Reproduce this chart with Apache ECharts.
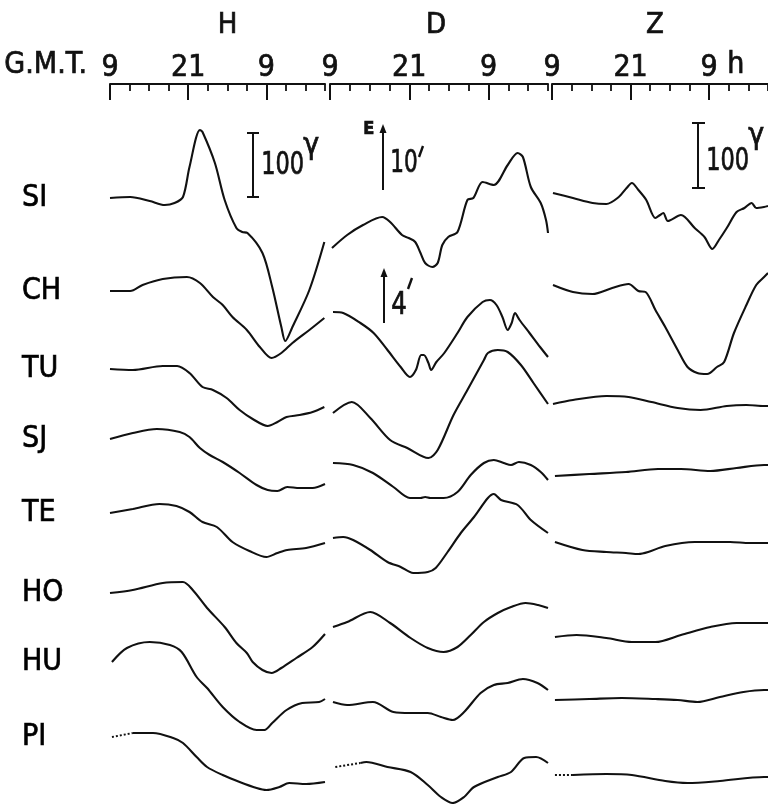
<!DOCTYPE html>
<html><head><meta charset="utf-8">
<script src="https://cdn.jsdelivr.net/npm/echarts@6/dist/echarts.min.js"></script>
<style>html,body{margin:0;padding:0;background:#fff}#c{width:768px;height:804px}</style>
</head><body><div id="c"></div>
<script>
// Stations and components
const stations = ['SI','CH','TU','SJ','TE','HO','HU','PI'];
const components = ['H','D','Z'];
// G.M.T. hour tick categories (every 3 h, 09h day 1 .. 18h day 2)
const hourTicks = ['9','12','15','18','21','0','3','6','9','12','15','18'];
// Trace base levels (record units below the time scale)
const levelH = [114,207,285,355,429,509,578,653];
const levelD = [164,228,329,379,454,543,618,683];
const levelZ = [109,201,320,392,458,553,616,691];
// number of leading points of each station's traces drawn dotted (record gaps)
const dottedLead = [0,0,0,0,0,0,0,2];

// Traces: [hour (GMT, from 09h day 1), deviation (record units, up = +)]
// H component
const H_SI = [[9,0],[12.1,1],[15.1,-3],[17.4,-7],[18.9,-5],[20.2,1],[21.2,31],[22.8,68],[23.2,66],[25.1,35],[26.6,-2],[28.4,-30],[29.3,-34],[30.1,-35],[32.4,-55],[33.9,-89],[35.3,-129],[35.9,-143],[37,-129],[39.6,-92],[41.9,-44]];
const H_CH = [[9,0],[12.1,0],[14,6],[17.1,12],[20.8,14],[22.8,8],[24.8,-6],[26.3,-14],[27.8,-26],[30,-39],[32,-56],[33.8,-67],[35.3,-62],[37,-52],[39.6,-39],[41.9,-27]];
const H_TU = [[9,0],[12.5,-1],[17.1,3],[19.3,3],[21.2,-4],[23.2,-18],[24.8,-21],[26.9,-29],[28.9,-41],[30.9,-50],[33.2,-57],[34.7,-53],[36.1,-48],[38.1,-46],[40.1,-43],[41.9,-38]];
const H_SJ = [[9,0],[12.5,6],[16.2,10],[19.7,7],[21.2,2],[22.8,-9],[24.3,-16],[26.3,-23],[28.9,-34],[31.5,-46],[33.2,-51],[34.7,-52],[36.2,-48],[38.1,-49],[40.1,-49],[42,-45]];
const H_TE = [[9,0],[12.5,4],[16.6,9],[19.2,7],[21.2,1],[23.2,-9],[25.4,-14],[27.8,-29],[30.4,-38],[33,-44],[34.7,-40],[36.2,-37],[39.1,-35],[42,-30]];
const H_HO = [[9,0],[12.5,3],[17.1,10],[20.2,11],[21.7,3],[23.9,-15],[26.6,-34],[28.4,-50],[30,-60],[30.9,-69],[32.4,-77],[33.8,-80],[35.3,-75],[37.6,-65],[40.1,-54],[42,-41]];
const H_HU = [[9.3,0],[11.6,14],[15.1,20],[18.2,17],[20,10],[22.3,-15],[23.9,-26],[26.3,-45],[28.9,-60],[31.5,-68],[32.7,-68],[33.9,-61],[36.1,-48],[38.5,-41],[41.1,-40],[42,-37]];
const H_PI = [[9.3,0],[12.5,4],[15.6,4],[18.7,-1],[20.2,-6],[22.3,-20],[23.9,-30],[26.3,-38],[28.9,-45],[31.5,-51],[33,-53],[35,-50],[36.5,-46],[39.1,-47],[42,-45]];
// D component
const D_SI = [[9.3,0],[11.6,13],[14,23],[16.9,31],[18.1,26],[19.9,13],[20.9,10],[21.9,6],[22.7,-5],[23.4,-15],[24.5,-19],[25.3,-15],[26,3],[26.9,11],[28.3,16],[29.8,48],[30.7,50],[32.1,66],[33.8,63],[35.9,83],[37.4,95],[38.2,91],[39.4,61],[40.9,45],[41.7,28],[42,15]];
const D_CH = [[9.45,0],[11,-1],[13.6,-11],[15.6,-21],[17.7,-38],[19.7,-55],[21.1,-65],[22,-58],[22.8,-43],[23.2,-43],[23.9,-51],[24.3,-58],[25.1,-50],[26.3,-41],[28.3,-21],[29.8,-5],[32.1,10],[33.2,12],[34.2,7],[35.1,-5],[35.9,-18],[36.5,-11],[37,-1],[37.7,-8],[39.2,-21],[40.8,-35],[42,-45]];
const D_TU = [[9.45,0],[12.3,11],[15.1,-5],[18.1,-27],[20.7,-35],[23.9,-45],[25.3,-37],[27.7,-2],[29.8,23],[32.3,53],[32.9,60],[34.4,63],[35.9,61],[37.9,48],[39.8,30],[42,9]];
const D_SJ = [[9.45,0],[12.5,-2],[15.5,-10],[18.6,-24],[21.1,-35],[22.7,-35],[23.4,-34],[24.2,-35],[26.2,-35],[28.3,-29],[30.3,-12],[32.3,0],[33.8,3],[35.3,0],[36.4,-2],[37.6,1],[39.4,-2],[40.9,-9],[42,-17]];
const D_TE = [[9.45,0],[11,1],[12.5,-2],[15.1,-12],[17.7,-24],[19.7,-29],[21.6,-35],[23.8,-34],[25,-30],[26.8,-14],[28.8,5],[30.8,21],[32.9,40],[33.8,44],[34.9,38],[37.4,33],[39.4,18],[42,5]];
const D_HO = [[9.45,0],[11.6,5],[15.1,15],[18.1,4],[21.2,-11],[23.8,-21],[26.2,-25],[28.3,-20],[30.3,-8],[32.3,5],[34.4,14],[36.4,20],[38.6,24],[40.5,22],[42,19]];
const D_HU = [[9.45,0],[11.6,-3],[15.5,0],[18.6,-10],[21.2,-11],[23.8,-11],[25.8,-15],[27.6,-18],[29.3,-10],[31.8,9],[33.8,17],[35.9,19],[38.2,23],[40.4,19],[42,12]];
const D_PI = [[9.8,0],[13.6,4],[14.5,5],[17.7,0],[21.2,-5],[23.8,-18],[25.8,-30],[27.6,-36],[29.3,-30],[30.8,-20],[34.4,-10],[36.4,-5],[38.4,9],[40.2,10],[42,4]];
// Z component
const Z_SI = [[9.15,0],[12.2,-5],[15.2,-10],[17.3,-11],[19.2,-4],[20.4,5],[21.2,10],[22.2,3],[23.4,-7],[24.8,-25],[25.5,-22],[26,-20],[26.7,-28],[28.7,-22],[30.8,-35],[32.3,-44],[33.5,-56],[34.5,-47],[35.7,-35],[37.2,-19],[38.4,-15],[39.5,-10],[40.2,-15],[41.4,-14],[42,-13]];
const Z_CH = [[9.15,0],[12.2,-7],[15.2,-9],[18.2,-3],[20.7,1],[22.2,-6],[23.3,-7],[24.8,-25],[26.3,-42],[28.2,-65],[29.7,-82],[31.2,-88],[32.7,-89],[34.2,-82],[35.3,-77],[36.8,-48],[38.7,-20],[40.2,0],[41.4,8],[42,12]];
const Z_TU = [[9.15,0],[12.2,4],[17.3,8],[20.7,7],[24.2,2],[28.2,-4],[31.7,-6],[35.7,-2],[38.7,-1],[41.4,-2],[42,-2]];
const Z_SJ = [[9.45,0],[14.7,2],[20.3,4],[25.2,7],[28.7,7],[33.2,5],[37.2,8],[41.4,11],[42,11]];
const Z_TE = [[9.45,0],[13.65,-8],[17.3,-10],[20.3,-11],[22.2,-12],[23.7,-10],[26.3,-4],[30.8,0],[36.2,0],[39.2,-1],[41.4,-1],[42,-1]];
const Z_HO = [[9.45,0],[12.75,2],[17.3,-1],[21.2,-5],[24.8,-5],[28.7,2],[33.2,10],[37.2,14],[41.4,14],[42,14]];
const Z_HU = [[9.45,0],[14.7,1],[19.65,2],[24.8,1],[28.2,0],[31.2,-2],[34.65,3],[38.25,8],[41.4,10],[42,10]];
const Z_PI = [[9.45,0],[12.2,0],[17.3,1],[21.2,0],[26.3,-6],[29.7,-8],[34.65,-6],[41.4,-2],[42,-2]];

const traces = {
  H: [H_SI,H_CH,H_TU,H_SJ,H_TE,H_HO,H_HU,H_PI],
  D: [D_SI,D_CH,D_TU,D_SJ,D_TE,D_HO,D_HU,D_PI],
  Z: [Z_SI,Z_CH,Z_TU,Z_SJ,Z_TE,Z_HO,Z_HU,Z_PI]
};
const levels = {H: levelH, D: levelD, Z: levelZ};

const FONT = "'Liberation Sans Narrow','DejaVu Sans Condensed','DejaVu Sans',sans-serif";
const INK = '#111';
const BOLDEN = {textBorderColor: INK, textBorderWidth: 0.7};

const grids = [
  {left: 110, top: 84, width: 215, bottom: 0},
  {left: 330, top: 84, width: 218, bottom: 0},
  {left: 552, top: 84, width: 220, bottom: 0}
];
const titlePad = [[0,0,0,20],[0,6,0,0],[0,10,0,0]];

const xAxes = [], yAxes = [], series = [];
components.forEach((c, gi) => {
  xAxes.push({type: 'value', gridIndex: gi, min: 9, max: 42, show: false});
  xAxes.push({
    type: 'category', gridIndex: gi, position: 'top', boundaryGap: false, data: hourTicks,
    axisLine: {show: true, lineStyle: {color: INK, width: 2}},
    axisTick: {show: true, inside: true, length: 7, interval: 0, lineStyle: {color: INK, width: 1.8}},
    axisLabel: {show: false}, splitLine: {show: false}
  });
  xAxes.push({
    type: 'category', gridIndex: gi, position: 'top', boundaryGap: false, data: hourTicks,
    name: c, nameLocation: 'middle', nameGap: 44,
    nameTextStyle: Object.assign({fontFamily: FONT, fontSize: 29, color: INK, padding: titlePad[gi]}, BOLDEN),
    axisLine: {show: false},
    axisTick: {show: true, inside: true, length: 16, interval: (i) => i % 4 === 0 && i < 11, lineStyle: {color: INK, width: 2}},
    axisLabel: Object.assign({show: true, interval: (i) => i % 4 === 0 && i < 11, margin: 1, fontFamily: FONT, fontSize: 30, color: INK}, BOLDEN),
    splitLine: {show: false}
  });
  yAxes.push({type: 'value', gridIndex: gi, inverse: true, min: 0, max: 720, show: false});
  traces[c].forEach((arr, si) => {
    const pts = arr.map(p => [p[0], levels[c][si] - p[1]]);
    const k = dottedLead[si];
    if (k > 0) {
      series.push({
        type: 'line', name: c + ' ' + stations[si] + ' gap', xAxisIndex: gi * 3, yAxisIndex: gi,
        data: pts.slice(0, k), showSymbol: false, silent: true,
        lineStyle: {color: INK, width: 2, type: [2, 2]}
      });
    }
    series.push({
      type: 'line', name: c + ' ' + stations[si], xAxisIndex: gi * 3, yAxisIndex: gi,
      data: pts.slice(Math.max(0, k - 1)),
      showSymbol: false, smooth: 0.3, silent: true,
      lineStyle: {color: INK, width: 2.1}
    });
  });
});
// station names
series.push({
  type: 'scatter', xAxisIndex: 0, yAxisIndex: 0, symbolSize: 0, silent: true,
  itemStyle: {color: INK},
  data: stations.map((s, i) => ({name: s, value: [9, levelH[i]]})),
  label: Object.assign({show: true, position: 'left', distance: 88, align: 'left', formatter: '{b}',
    fontFamily: FONT, fontSize: 30, color: '#000', opacity: 1}, BOLDEN)
});

const txt = (x, y, s, size, opts) => Object.assign({type: 'text', left: x, top: y, silent: true,
  style: {text: s, fontFamily: FONT, fontSize: size, fontWeight: (opts && opts.weight) || 'normal', fill: INK,
    stroke: INK, lineWidth: 0.7}},
  opts && opts.sx ? {scaleX: opts.sx} : {});
const ln = (x1, y1, x2, y2, w) => ({type: 'line', silent: true,
  shape: {x1, y1, x2, y2}, style: {stroke: INK, lineWidth: w || 2}});
const head = (x, y) => ({type: 'polygon', silent: true,
  shape: {points: [[x, y], [x - 3.5, y + 9], [x + 3.5, y + 9]]}, style: {fill: INK}});

const graphic = [
  txt(4, 50, 'G.M.T.', 30),
  txt(727, 50, 'h', 30),
  // H scale bar
  ln(253, 133, 253, 197), ln(247, 133, 259, 133), ln(247, 197, 259, 197),
  txt(261, 149, '100', 32, {sx: 0.78}), txt(303, 131, 'γ', 30),
  // Z scale bar
  ln(698, 123, 698, 188), ln(692, 123, 705, 123), ln(692, 188, 705, 188),
  txt(706, 145, '100', 32, {sx: 0.78}), txt(748, 121, 'γ', 30),
  // D arrows
  txt(363, 120, 'E', 18, {weight: 'bold'}),
  ln(383, 190, 383, 130), head(383, 124),
  txt(390, 147, '10', 32, {sx: 0.75}), ln(423, 146, 419, 157, 2.4),
  ln(384, 323, 384, 274), head(384, 268),
  txt(391, 289, '4', 32, {sx: 0.85}), ln(412, 278, 408, 289, 2.4)
];

const chart = echarts.init(document.getElementById('c'), null, {renderer: 'canvas'});
chart.setOption({
  backgroundColor: '#fff', animation: false,
  grid: grids, xAxis: xAxes, yAxis: yAxes, series, graphic
});
</script></body></html>
